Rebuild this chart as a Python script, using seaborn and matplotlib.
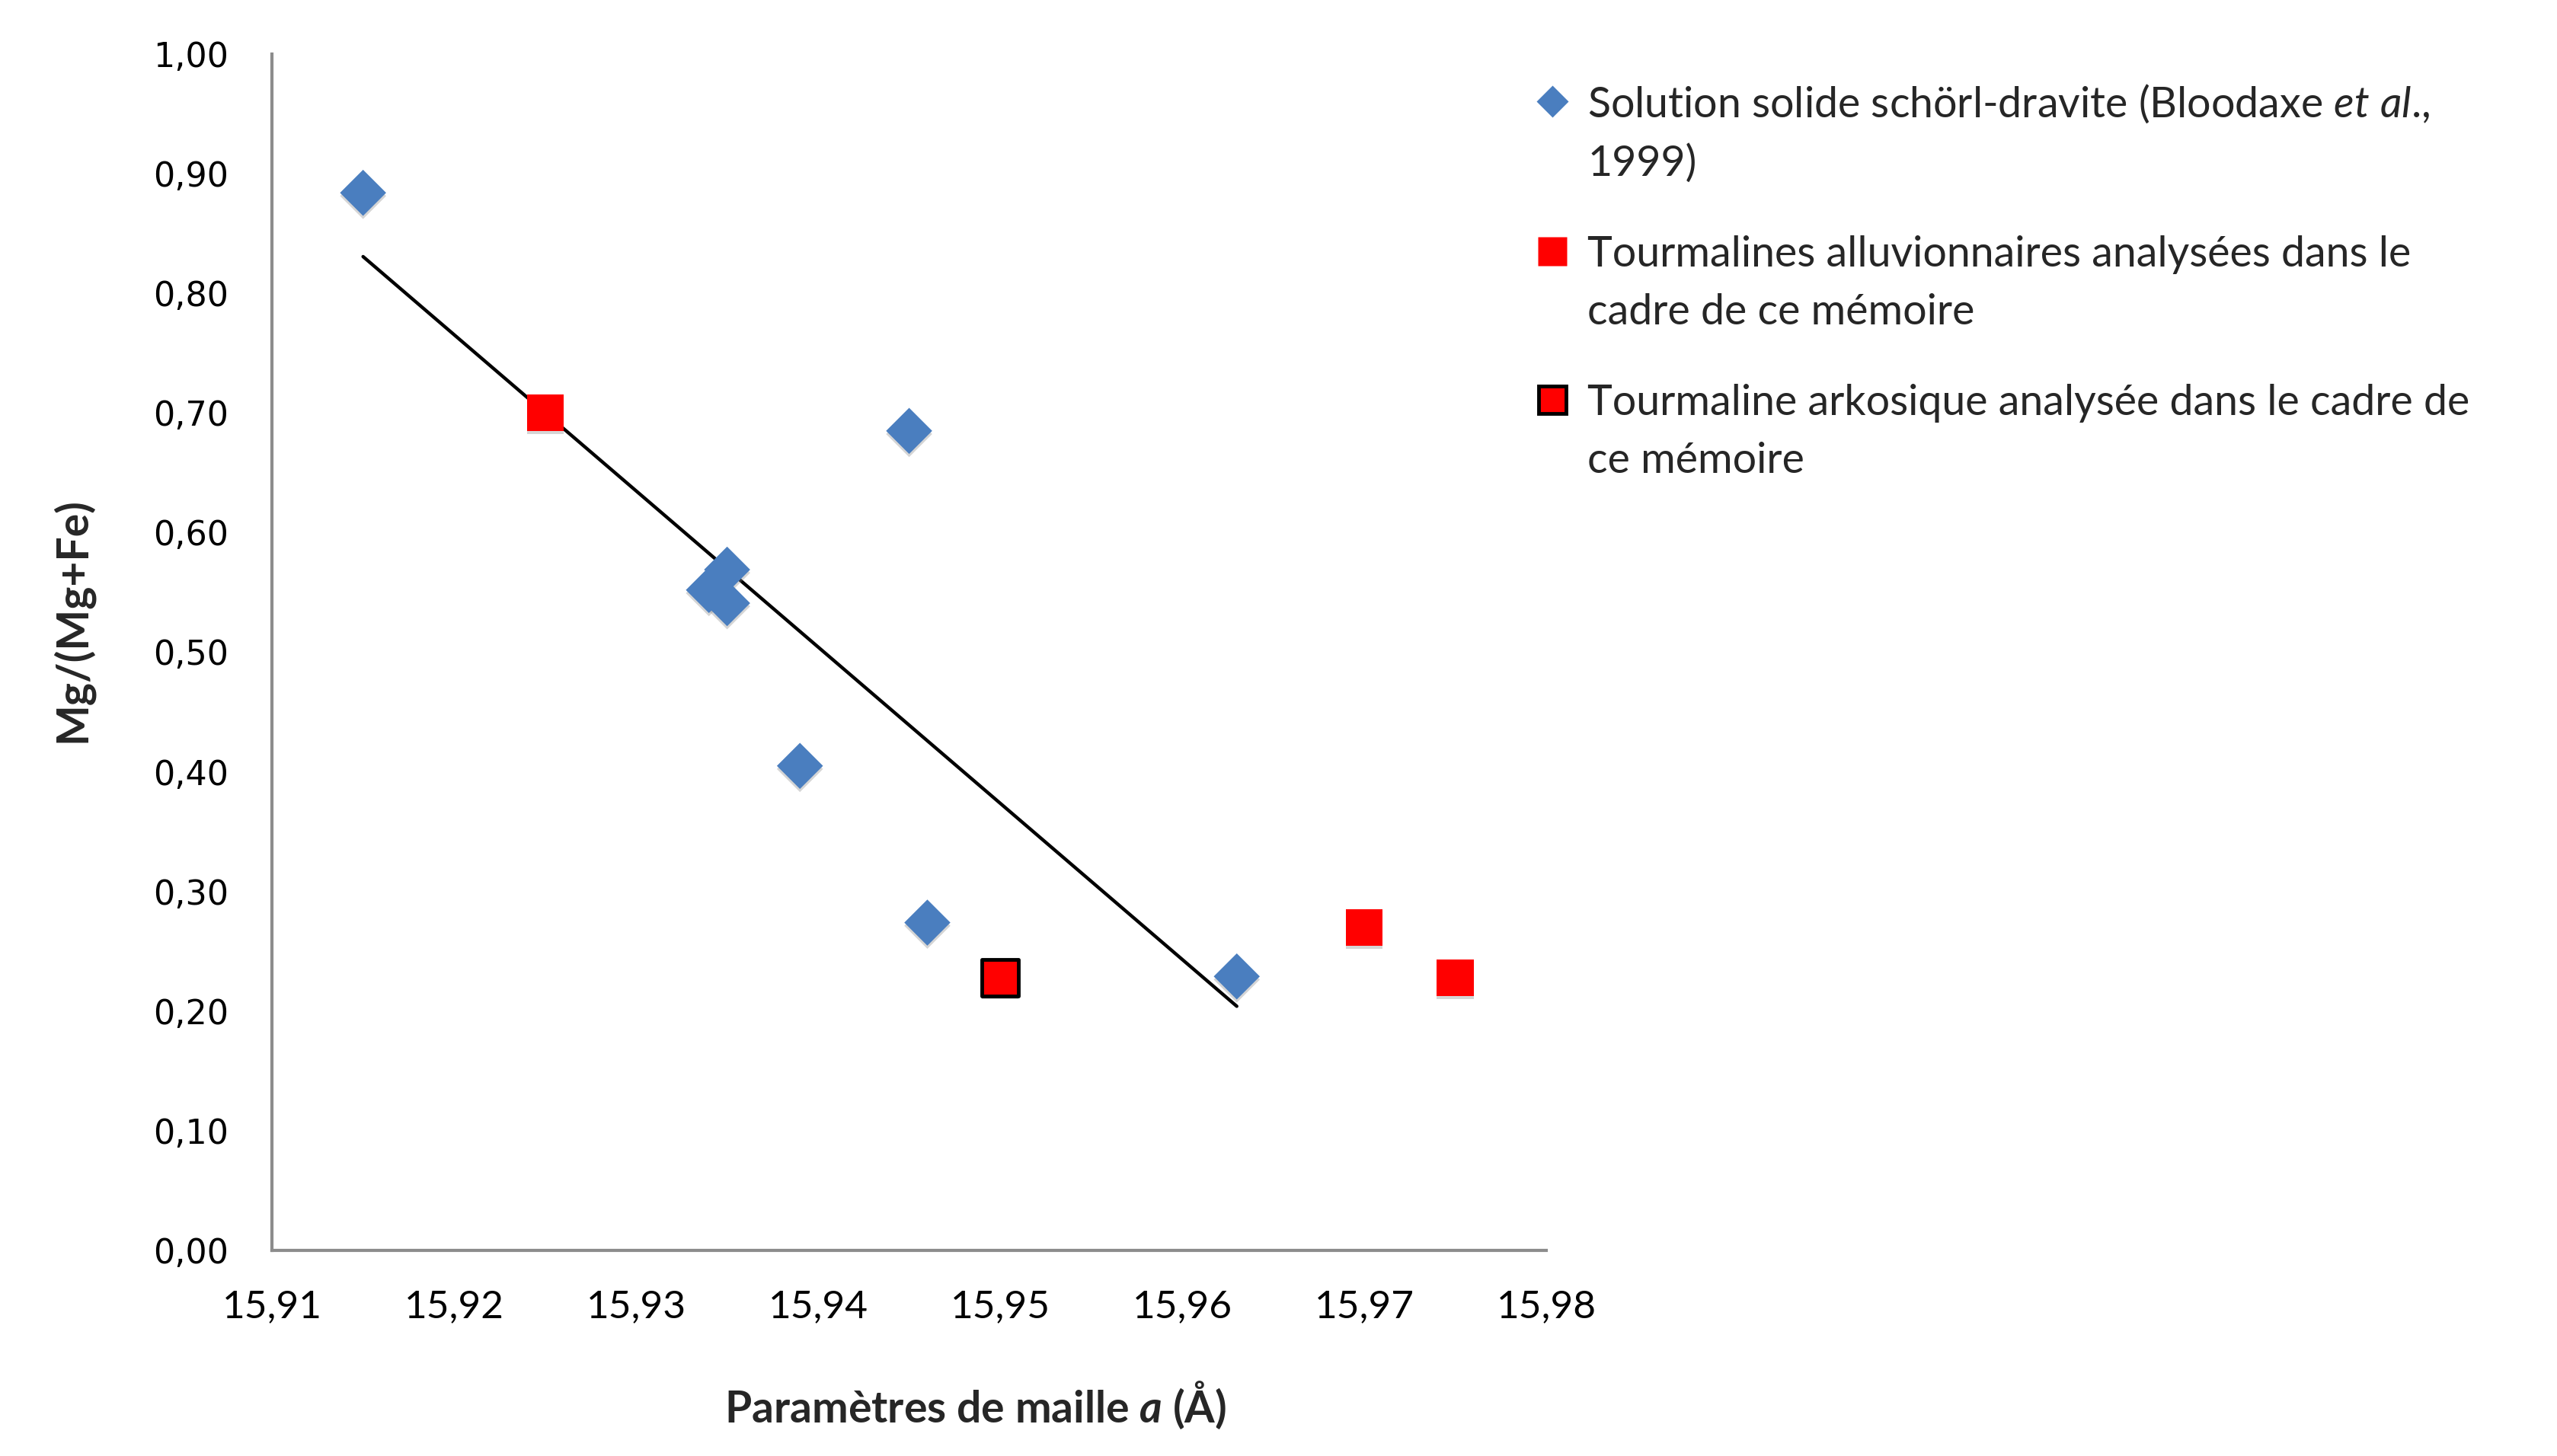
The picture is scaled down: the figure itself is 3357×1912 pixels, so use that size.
"""Mg/(Mg+Fe) vs lattice parameter a for tourmalines."""

import matplotlib

matplotlib.use("Agg")
import matplotlib.pyplot as plt
import matplotlib.patheffects as pe
import numpy as np
import pandas as pd
import seaborn as sns
from matplotlib.legend_handler import HandlerLine2D
from matplotlib.lines import Line2D
from matplotlib.ticker import FuncFormatter

# Solution solide schörl-dravite (Bloodaxe et al., 1999)
schorl_a = [15.915, 15.945, 15.935, 15.934, 15.935, 15.939, 15.946, 15.963]
schorl_mg = [0.884, 0.685, 0.569, 0.552, 0.541, 0.405, 0.274, 0.229]

# alluvial tourmalines (this work)
alluv_a = [15.925, 15.970, 15.975]
alluv_mg = [0.700, 0.270, 0.228]

# arkosic tourmaline (this work)
arkose_a = [15.950]
arkose_mg = [0.228]

x_ticks = [15.91, 15.92, 15.93, 15.94, 15.95, 15.96, 15.97, 15.98]
y_ticks = [0.0, 0.1, 0.2, 0.3, 0.4, 0.5, 0.6, 0.7, 0.8, 0.9, 1.0]

labels = [
    "Solution solide schörl-dravite (Bloodaxe $et\\ al$.,\n1999)",
    "Tourmalines alluvionnaires analysées dans le\ncadre de ce mémoire",
    "Tourmaline arkosique analysée dans le cadre de\nce mémoire",
]

BLUE = "#4a7ebf"
RED = "#ff0000"

LEG_FS = 40
LEG_LS = 1.6

sns.set_style("white")
plt.rcParams["font.family"] = ["Lato", "DejaVu Sans"]
plt.rcParams["mathtext.fontset"] = "custom"
plt.rcParams["mathtext.rm"] = "Lato"
plt.rcParams["mathtext.it"] = "Lato:italic"
plt.rcParams["mathtext.bf"] = "Lato:bold"
plt.rcParams["mathtext.bfit"] = "Lato:bold:italic"


class FirstLineHandler(HandlerLine2D):
    """Put the legend marker on the first line of a two-line label."""

    def create_artists(self, legend, orig_handle, xdescent, ydescent,
                       width, height, fontsize, trans):
        artists = super().create_artists(legend, orig_handle, xdescent, ydescent,
                                          width, height, fontsize, trans)
        shift = 0.5 * 0.72 * fontsize * LEG_LS + 0.2 * fontsize
        for a in artists:
            a.set_ydata(np.asarray(a.get_ydata(), dtype=float) + shift)
        return artists


schorl = pd.DataFrame({"a": schorl_a, "mg": schorl_mg})
alluv = pd.DataFrame({"a": alluv_a, "mg": alluv_mg})
arkose = pd.DataFrame({"a": arkose_a, "mg": arkose_mg})

fig = plt.figure(figsize=(33.57, 19.12), dpi=100)
ax = fig.add_axes([0.1064, 0.1412, 0.4983, 0.8217])

shadow = [pe.SimplePatchShadow(offset=(0, -3), shadow_rgbFace="#888888", alpha=0.35), pe.Normal()]

# trend line through the schörl-dravite series
sns.regplot(data=schorl, x="a", y="mg", ax=ax, scatter=False, ci=None,
            truncate=True, line_kws={"color": "black", "lw": 3.2, "zorder": 2})

sns.scatterplot(data=schorl, x="a", y="mg", ax=ax, marker="D", s=950,
                color=BLUE, edgecolor="none", linewidth=0, zorder=3,
                path_effects=shadow)
sns.scatterplot(data=alluv, x="a", y="mg", ax=ax, marker="s", s=1200,
                color=RED, edgecolor="none", linewidth=0, zorder=3,
                path_effects=shadow)
sns.scatterplot(data=arkose, x="a", y="mg", ax=ax, marker="s", s=1200,
                color=RED, edgecolor="black", linewidth=3.5, zorder=3,
                path_effects=shadow)

ax.set_xlim(15.91, 15.98)
ax.set_ylim(0, 1)
ax.set_xticks(x_ticks)
ax.set_yticks(y_ticks)
ax.xaxis.set_major_formatter(FuncFormatter(lambda v, p: f"{v:.2f}".replace(".", ",")))
ax.yaxis.set_major_formatter(FuncFormatter(lambda v, p: f"{v:.2f}".replace(".", ",")))

for side in ["top", "right"]:
    ax.spines[side].set_visible(False)
for side in ["left", "bottom"]:
    ax.spines[side].set_color("#8c8c8c")
    ax.spines[side].set_linewidth(3)

ax.tick_params(axis="both", which="major", direction="out", length=13,
               width=1.6, color="#8c8c8c", labelcolor="black")
ax.tick_params(axis="y", pad=28, labelsize=32)
ax.tick_params(axis="x", pad=24, labelsize=37)
for lbl in ax.get_yticklabels():
    lbl.set_family("DejaVu Sans")

ax.set_xlabel("Paramètres de maille $\\mathbfit{a}$ (Å)", fontsize=41, fontweight="bold")
ax.set_ylabel("Mg/(Mg+Fe)", fontsize=41, fontweight="bold")
ax.xaxis.set_label_coords(0.552, -0.108)
ax.yaxis.set_label_coords(-0.1405, 0.527)

handles = [
    Line2D([], [], ls="none", marker="D", ms=21, color=BLUE, mec="none"),
    Line2D([], [], ls="none", marker="s", ms=27, color=RED, mec="none"),
    Line2D([], [], ls="none", marker="s", ms=26, color=RED, mec="black", mew=3.5),
]
leg = fig.legend(handles, labels, loc="upper left", bbox_to_anchor=(0.5947, 0.955),
                 frameon=False, fontsize=LEG_FS, handlelength=0.7, handletextpad=0.48,
                 labelspacing=1.23, borderaxespad=0,
                 handler_map={Line2D: FirstLineHandler()})
for t in leg.get_texts():
    t.set_linespacing(LEG_LS)

fig.savefig("out.png", dpi=100)
plt.close(fig)
